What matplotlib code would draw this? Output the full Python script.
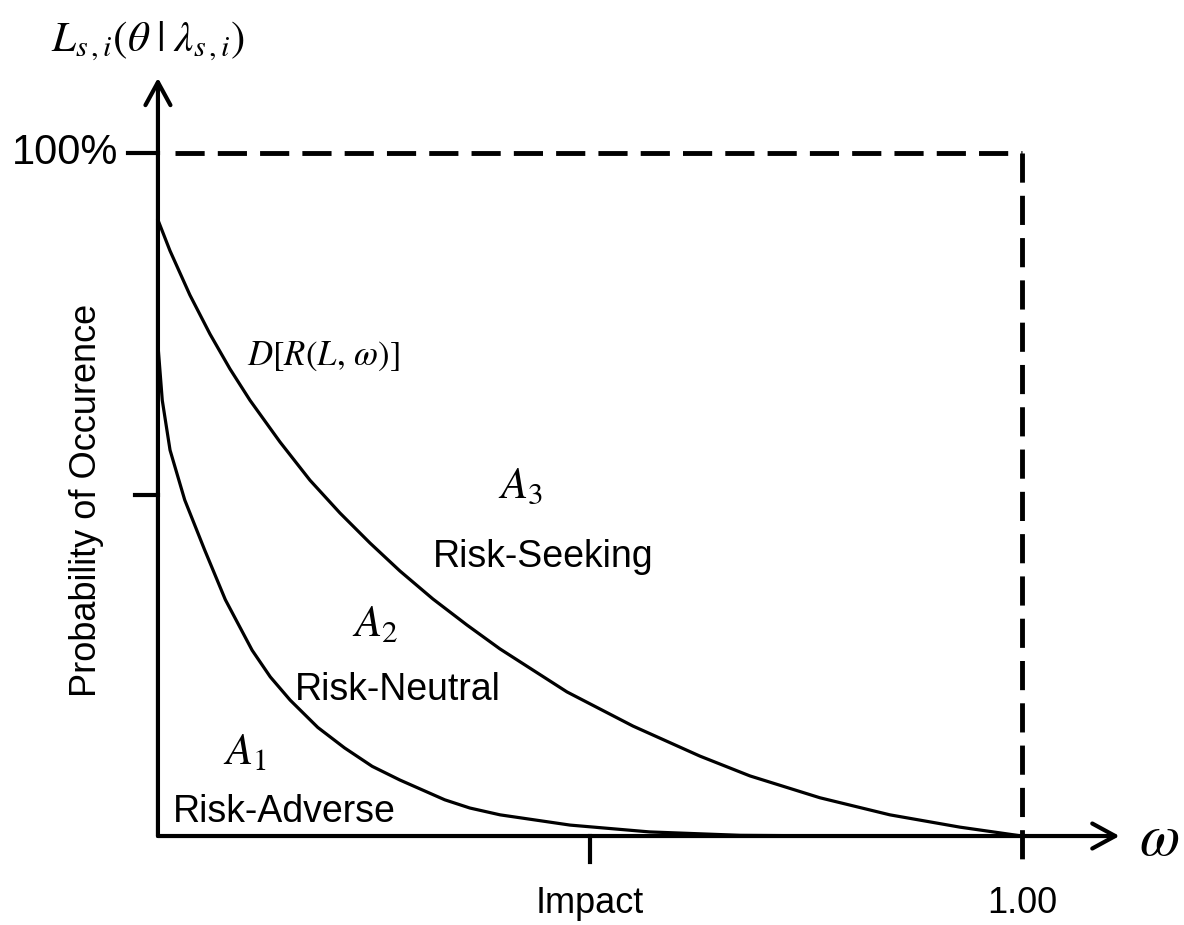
import numpy as np
import matplotlib.pyplot as plt

plt.rcParams['font.family'] = ['Liberation Sans', 'DejaVu Sans']
plt.rcParams['mathtext.fontset'] = 'stix'

# risk-seeking boundary D[R(L, w)]
impact_seek = [0.0, 0.0139, 0.0370, 0.0602, 0.0833, 0.1065, 0.1412, 0.1759, 0.2106,
               0.2454, 0.2801, 0.3183, 0.3576, 0.3958, 0.4734, 0.5498, 0.6273, 0.6852,
               0.7662, 0.8472, 0.9282, 1.0]
prob_seek = [0.902, 0.857, 0.792, 0.735, 0.684, 0.638, 0.577, 0.521, 0.473,
             0.429, 0.388, 0.347, 0.309, 0.274, 0.211, 0.161, 0.117, 0.088,
             0.056, 0.031, 0.013, 0.0]

# risk-adverse boundary
impact_adverse = [0.0, 0.005, 0.014, 0.031, 0.054, 0.078, 0.109, 0.130, 0.153, 0.185,
                  0.216, 0.248, 0.280, 0.332, 0.361, 0.396, 0.477, 0.569, 0.674, 0.80, 1.0]
prob_adverse = [0.719, 0.638, 0.565, 0.492, 0.419, 0.346, 0.272, 0.233, 0.199, 0.159,
                0.129, 0.102, 0.082, 0.053, 0.041, 0.031, 0.016, 0.006, 0.001, 0.0, 0.0]

xtick_pos = [0.5, 1.0]
xtick_labels = ['Impact', '1.00']
ytick_pos = [0.5, 1.0]

fig = plt.figure(figsize=(11.84, 9.25), dpi=100)
ax = fig.add_axes([0.1334, 0.0962, 0.7297, 0.7384])
ax.set_xlim(0, 1)
ax.set_ylim(0, 1)
ax.axis('off')

# axes with open arrow heads
arrow = dict(arrowstyle='->,head_length=0.55,head_width=0.3', lw=3, color='black',
             shrinkA=0, shrinkB=0, mutation_scale=30)
ax.annotate('', xy=(0, 1.11), xytext=(0, 0), arrowprops=arrow, annotation_clip=False)
ax.annotate('', xy=(1.113, 0), xytext=(0, 0), arrowprops=arrow, annotation_clip=False)

# ticks
ax.plot([-0.035, 0], [ytick_pos[1]] * 2, color='black', lw=3, clip_on=False)
ax.plot([-0.027, 0], [ytick_pos[0]] * 2, color='black', lw=3, clip_on=False)
ax.plot([xtick_pos[0]] * 2, [0, -0.038], color='black', lw=3, clip_on=False)

# 100% / 1.00 bounds
dash = (0, (6, 2.7))
ax.plot([0.02, 1], [1, 1], color='black', lw=3.5, ls=dash, clip_on=False)
ax.plot([1, 1], [1, -0.045], color='black', lw=3.5, ls=dash, clip_on=False)

# curves
ax.plot(impact_seek, prob_seek, color='black', lw=2.3, clip_on=False,
        solid_joinstyle='round')
ax.plot(impact_adverse, prob_adverse, color='black', lw=2.3, clip_on=False,
        solid_joinstyle='round')

# labels
ax.text(-0.046, 1.0, '100%', fontsize=30, ha='right', va='center')
ax.text(-0.083, 0.492, 'Probability of Occurence', fontsize=26, rotation=90,
        ha='center', va='center')
ax.text(-0.012, 1.163, r'$L_{s\,,i}(\theta\;|\;\lambda_{s\,,i})$', fontsize=31,
        ha='center', va='center')
for pos, lab in zip(xtick_pos, xtick_labels):
    ax.text(pos, -0.113, lab, fontsize=26, ha='center', va='baseline')
ax.text(1.135, -0.006, r'$\omega$', fontsize=42, ha='left', va='center')

ax.text(0.103, 0.703, r'$D[R(L,\,\omega)]$', fontsize=25, ha='left', va='center')
ax.text(0.420, 0.512, r'$A_3$', fontsize=32, ha='center', va='center')
ax.text(0.251, 0.309, r'$A_2$', fontsize=32, ha='center', va='center')
ax.text(0.101, 0.123, r'$A_1$', fontsize=32, ha='center', va='center')
ax.text(0.318, 0.394, 'Risk-Seeking', fontsize=27, ha='left', va='baseline')
ax.text(0.159, 0.199, 'Risk-Neutral', fontsize=27, ha='left', va='baseline')
ax.text(0.017, 0.020, 'Risk-Adverse', fontsize=27, ha='left', va='baseline')

fig.savefig('out.png', dpi=100)
